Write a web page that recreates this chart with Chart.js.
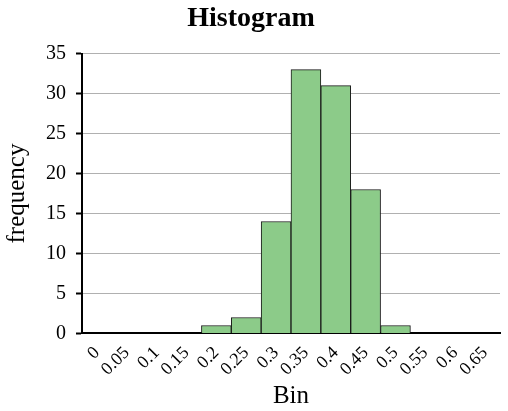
<!DOCTYPE html>
<html lang="en">
<head>
  <meta charset="UTF-8">
  <title>Histogram</title>
  <script src="https://cdn.jsdelivr.net/npm/chart.js"></script>
  <style>
    body {
      margin: 0;
      background: #fff;
    }
    .chart-container {
      width: 508px;
      height: 411px;
    }
  </style>
</head>
<body>
  <div class="chart-container">
    <canvas id="histChart"></canvas>
  </div>

  <script>
    // bins and counts
    const bins = ['0', '0.05', '0.1', '0.15', '0.2', '0.25', '0.3', '0.35', '0.4', '0.45', '0.5', '0.55', '0.6', '0.65'];
    const frequency = [0, 0, 0, 0, 1, 2, 14, 33, 31, 18, 1, 0, 0, 0];

    const serif = '"Liberation Serif", "Times New Roman", serif';

    new Chart(document.getElementById('histChart').getContext('2d'), {
      type: 'bar',
      data: {
        labels: bins,
        datasets: [{
          label: 'frequency',
          data: frequency,
          backgroundColor: '#8ccb89',
          borderColor: '#1a1a1a',
          borderWidth: 1,
          barPercentage: 1,
          categoryPercentage: 1
        }]
      },
      options: {
        responsive: true,
        maintainAspectRatio: false,
        animation: false,
        layout: { padding: { left: 2, right: 8, top: 2, bottom: 0 } },
        plugins: {
          legend: { display: false },
          tooltip: { enabled: false },
          title: {
            display: true,
            text: 'Histogram',
            color: '#000',
            font: { family: serif, size: 28, weight: 'bold' },
            padding: { top: 0, bottom: 18 }
          }
        },
        scales: {
          x: {
            grid: { display: false },
            border: { display: true, color: '#000', width: 2 },
            ticks: {
              color: '#000',
              font: { family: serif, size: 18 },
              minRotation: 45,
              maxRotation: 45,
              autoSkip: false,
              padding: 1
            },
            title: {
              display: true,
              text: 'Bin',
              color: '#000',
              font: { family: serif, size: 25 },
              padding: { top: 0, bottom: 0 }
            }
          },
          y: {
            min: 0,
            max: 35,
            ticks: {
              stepSize: 5,
              color: '#000',
              font: { family: serif, size: 20 },
              padding: 10
            },
            grid: {
              color: '#b0b0b0',
              lineWidth: 1,
              tickColor: '#000',
              tickLength: 6,
              tickWidth: 2
            },
            border: { color: '#000', width: 2 },
            title: {
              display: true,
              text: 'frequency',
              color: '#000',
              font: { family: serif, size: 25 },
              padding: { top: 0, bottom: 4 }
            }
          }
        }
      }
    });
  </script>
</body>
</html>
